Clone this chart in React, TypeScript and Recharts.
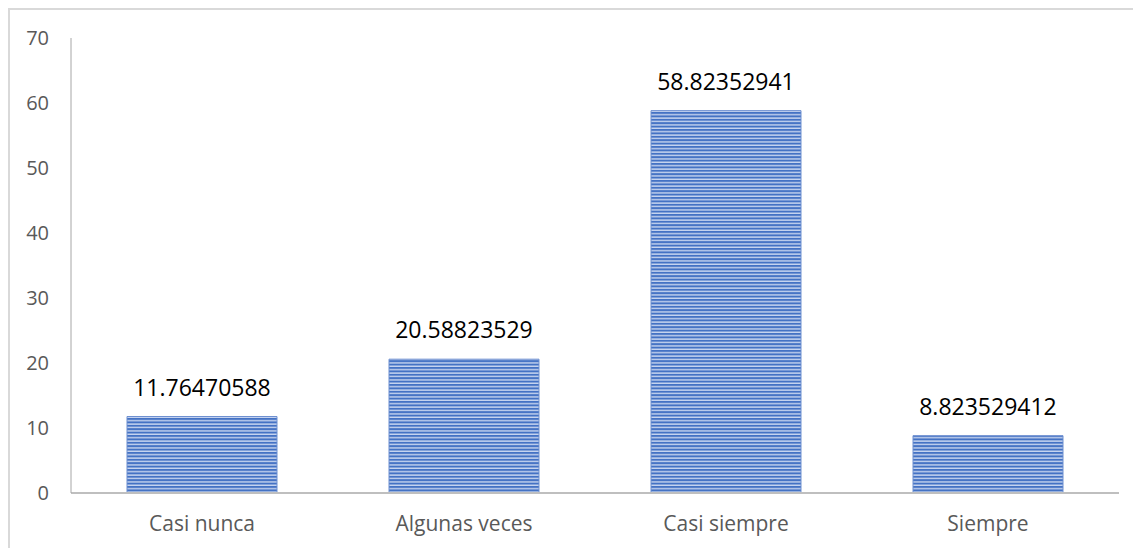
import { BarChart, Bar, XAxis, YAxis, LabelList } from 'recharts'

const categories = ['Casi nunca', 'Algunas veces', 'Casi siempre', 'Siempre']
const values = [11.76470588, 20.58823529, 58.82352941, 8.823529412]
const yTicks = [0, 10, 20, 30, 40, 50, 60, 70]

const data = categories.map((name, i) => ({ name, value: values[i] }))

const FONT = '"Open Sans", "Liberation Sans", sans-serif'
const tickStyle = { fill: '#595959', fontSize: 20, fontFamily: FONT }

export default function App() {
  return (
    <div style={{
      width: 1133, height: 540, borderTop: '2px solid #d9d9d9', borderLeft: '2px solid #d9d9d9',
      boxSizing: 'border-box', background: '#fff', overflow: 'hidden',
    }}>
      <BarChart width={1131} height={538} data={data} barSize={150}
        margin={{ top: 28, right: 22, bottom: 0, left: 0 }}>
        <defs>
          <pattern id="stripes" patternUnits="userSpaceOnUse" width={8} height={3.4}>
            <rect x={0} y={0} width={8} height={3.4} fill="#c9d6f0" />
            <rect x={0} y={0} width={8} height={2} fill="#4472c4" />
          </pattern>
        </defs>
        <XAxis dataKey="name" tick={{ ...tickStyle, fontSize: 21 }} tickLine={false} tickSize={0} tickMargin={23}
          height={55} axisLine={{ stroke: '#bfbfbf', strokeWidth: 2 }} />
        <YAxis domain={[0, 70]} ticks={yTicks} tick={tickStyle} tickLine={false} tickSize={0}
          tickMargin={22} width={61} axisLine={{ stroke: '#a6a6a6', strokeWidth: 1 }} />
        <Bar dataKey="value" fill="url(#stripes)" stroke="#6d8fd0" strokeWidth={1} isAnimationActive={false}>
          <LabelList dataKey="value" position="top" offset={21}
            style={{ fill: '#000', fontSize: 23, fontFamily: FONT }} />
        </Bar>
      </BarChart>
    </div>
  )
}
